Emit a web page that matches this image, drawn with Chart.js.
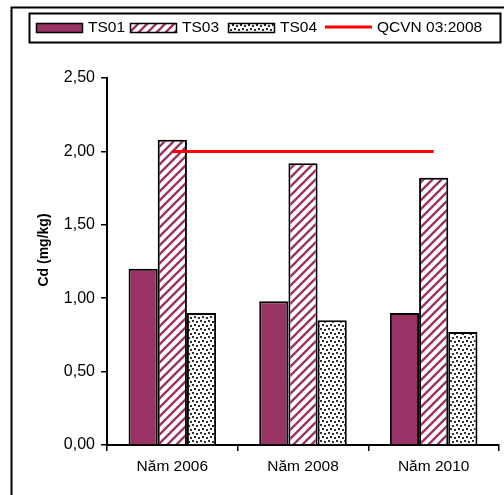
<!DOCTYPE html>
<html>
<head>
<meta charset="utf-8">
<script src="https://cdn.jsdelivr.net/npm/chart.js@4/dist/chart.umd.min.js"></script>
<style>
  html, body { margin: 0; padding: 0; background: #fff; }
  #wrap { width: 504px; height: 495px; }
</style>
</head>
<body>
<div id="wrap"><canvas id="myChart" width="504" height="495"></canvas></div>
<script>
// Chart data
const years = ['Năm 2006', 'Năm 2008', 'Năm 2010'];
const seriesNames = ['TS01', 'TS03', 'TS04', 'QCVN 03:2008'];
const ts01 = [1.20, 0.98, 0.90];
const ts03 = [2.08, 1.92, 1.82];
const ts04 = [0.90, 0.85, 0.77];
const qcvn = [2.00, 2.00, 2.00];
const yTicks = [0, 0.5, 1, 1.5, 2, 2.5];
const yTitle = 'Cd (mg/kg)';

const FONT = "'Liberation Sans', Arial, sans-serif";
const PLUM = '#993366';

// diagonal stripe fill for TS03
function makeStripes() {
    const c = document.createElement('canvas');
    c.width = 9; c.height = 9;
    const g = c.getContext('2d');
    g.fillStyle = '#fff';
    g.fillRect(0, 0, 9, 9);
    g.strokeStyle = PLUM;
    g.lineWidth = 2.4;
    g.beginPath();
    g.moveTo(-2, 11); g.lineTo(11, -2);
    g.moveTo(-2, 2); g.lineTo(2, -2);
    g.moveTo(7, 11); g.lineTo(11, 7);
    g.stroke();
    return g.createPattern(c, 'repeat');
}

// small dark dots fill for TS04
function makeDots() {
    const c = document.createElement('canvas');
    c.width = 8; c.height = 8;
    const g = c.getContext('2d');
    g.fillStyle = '#fff';
    g.fillRect(0, 0, 8, 8);
    g.fillStyle = '#2e2e2e';
    [[0, 0], [4, 1], [2, 4], [6, 5]].forEach(p => g.fillRect(p[0], p[1], 2, 2));
    return g.createPattern(c, 'repeat');
}

const fills = [PLUM, makeStripes(), makeDots()];

// frame, boxed legend and y title
const decorPlugin = {
    id: 'decor',
    afterDraw(chart) {
        const ctx = chart.ctx;
        ctx.save();
        ctx.strokeStyle = '#000';
        ctx.lineWidth = 2;
        ctx.strokeRect(11.5, 7.5, 600, 600);

        // legend box
        ctx.strokeRect(29.5, 13.5, 471, 29);
        const legendX = [36, 130, 228, 325];
        ctx.font = '15.5px ' + FONT;
        ctx.textBaseline = 'middle';
        ctx.fillStyle = '#000';
        seriesNames.forEach((name, i) => {
            const x = legendX[i];
            if (i < 3) {
                ctx.fillStyle = fills[i];
                ctx.fillRect(x, 23, 46, 10);
                ctx.lineWidth = 1.5;
                ctx.strokeStyle = '#000';
                ctx.strokeRect(x + 0.5, 23.5, 46, 9);
            } else {
                ctx.strokeStyle = '#ff0000';
                ctx.lineWidth = 3;
                ctx.beginPath();
                ctx.moveTo(x, 27);
                ctx.lineTo(x + 47, 27);
                ctx.stroke();
            }
            ctx.fillStyle = '#000';
            ctx.fillText(name, x + 52, 28);
        });

        // y axis title
        ctx.translate(44, 250);
        ctx.rotate(-Math.PI / 2);
        ctx.font = 'bold 14px ' + FONT;
        ctx.textAlign = 'center';
        ctx.fillText(yTitle, 0, 0);
        ctx.restore();
    }
};

const ctx = document.getElementById('myChart').getContext('2d');
const myChart = new Chart(ctx, {
    type: 'bar',
    data: {
        labels: years,
        datasets: [
            { label: seriesNames[0], data: ts01, backgroundColor: fills[0], borderColor: '#000', borderWidth: 2, order: 1 },
            { label: seriesNames[1], data: ts03, backgroundColor: fills[1], borderColor: '#000', borderWidth: 2, order: 1 },
            { label: seriesNames[2], data: ts04, backgroundColor: fills[2], borderColor: '#000', borderWidth: 2, order: 1 },
            { type: 'line', label: seriesNames[3], data: qcvn, borderColor: '#ff0000', borderWidth: 3, pointRadius: 0, fill: false, order: 0 }
        ]
    },
    options: {
        responsive: false,
        animation: false,
        devicePixelRatio: 1,
        layout: { padding: { top: 78, right: 5, left: 0, bottom: 0 } },
        datasets: { bar: { categoryPercentage: 0.67, barPercentage: 1.0 } },
        plugins: { legend: { display: false }, tooltip: { enabled: false } },
        scales: {
            x: {
                grid: { drawOnChartArea: false, tickLength: 6, color: '#000', lineWidth: 1.5 },
                border: { color: '#000', width: 2 },
                ticks: { color: '#000', font: { family: FONT, size: 15.5 }, padding: 6, maxRotation: 0 },
                afterFit(scale) { scale.height = 50; }
            },
            y: {
                min: 0,
                max: 2.5,
                afterBuildTicks(scale) { scale.ticks = yTicks.map(v => ({ value: v })); },
                grid: { drawOnChartArea: false, tickLength: 6, color: '#000', lineWidth: 1.5 },
                border: { color: '#000', width: 2 },
                ticks: {
                    color: '#000',
                    font: { family: FONT, size: 16 },
                    padding: 6,
                    callback: v => v.toFixed(2).replace('.', ',')
                },
                afterFit(scale) { scale.width = 107; }
            }
        }
    },
    plugins: [decorPlugin]
});
</script>
</body>
</html>
